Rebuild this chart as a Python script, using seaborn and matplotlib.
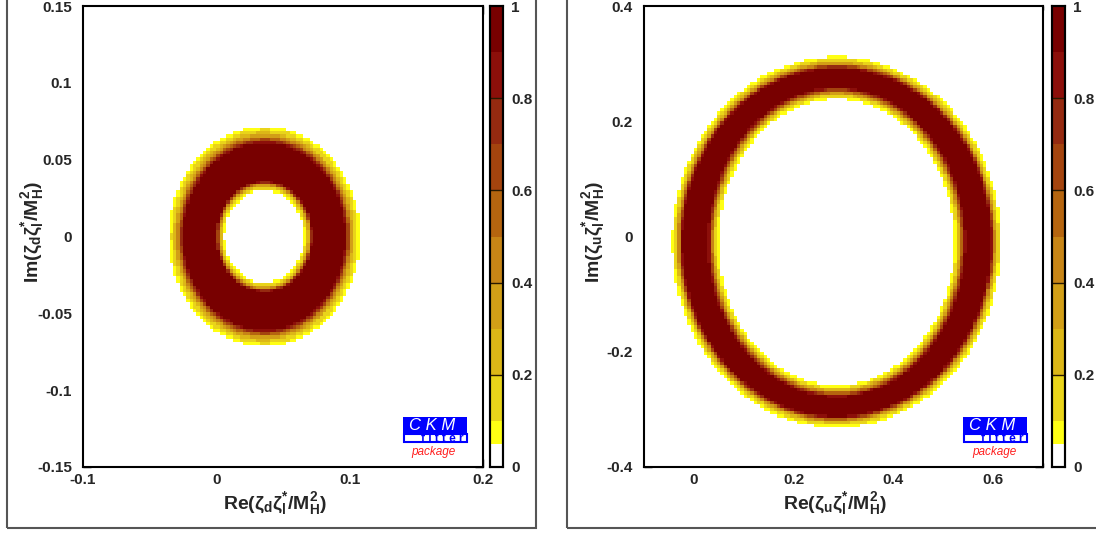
import numpy as np
import pandas as pd
import matplotlib
matplotlib.use('Agg')
import matplotlib.pyplot as plt
from matplotlib.colors import ListedColormap, BoundaryNorm
from matplotlib.patches import Rectangle
import seaborn as sns

# ─── DATA ────────────────────────────────────────────
# p-value (1-CL) bands of the palette
cl_levels = [0, 0.05, 0.1, 0.2, 0.3, 0.4, 0.5, 0.6, 0.7, 0.8, 0.9, 1.0]
cl_colors = ['#ffffff', '#ffff14', '#e9d41a', '#dcb717', '#d29f17', '#c78516',
             '#b5650f', '#a4440e', '#952a10', '#8c0f0a', '#780000']
cbar_ticks = [0, 0.2, 0.4, 0.6, 0.8, 1.0]

# band edges, one entry per threshold 0.05 ... 0.9
# left: Re/Im(zeta_d zeta_l* / MH^2)
d_xlim = (-0.1, 0.2)
d_ylim = (-0.15, 0.15)
d_xticks = [-0.1, 0, 0.1, 0.2]
d_yticks = [-0.15, -0.1, -0.05, 0, 0.05, 0.1, 0.15]
d_center = (0.036, 0.0)
d_outer_rx = [0.0717, 0.0698, 0.0677, 0.0663, 0.0652, 0.0642, 0.0633, 0.0625, 0.0618, 0.0610]
d_outer_ry = [0.0717, 0.0698, 0.0677, 0.0663, 0.0652, 0.0642, 0.0633, 0.0625, 0.0618, 0.0610]
d_inner_rx = [0.0299, 0.0310, 0.0322, 0.0330, 0.0336, 0.0342, 0.0347, 0.0351, 0.0356, 0.0360]
d_inner_ry = [0.0299, 0.0310, 0.0322, 0.0330, 0.0336, 0.0342, 0.0347, 0.0351, 0.0356, 0.0360]

# right: Re/Im(zeta_u zeta_l* / MH^2)
u_xlim = (-0.1, 0.7)
u_ylim = (-0.4, 0.4)
u_xticks = [0, 0.2, 0.4, 0.6]
u_yticks = [-0.4, -0.2, 0, 0.2, 0.4]
u_center = (0.286, -0.01)
u_outer_rx = [0.330, 0.326, 0.322, 0.320, 0.318, 0.316, 0.315, 0.313, 0.312, 0.310]
u_outer_ry = [0.322, 0.318, 0.314, 0.312, 0.310, 0.308, 0.307, 0.305, 0.304, 0.302]
u_inner_rx = [0.236, 0.240, 0.244, 0.246, 0.248, 0.250, 0.252, 0.254, 0.256, 0.258]
u_inner_ry = [0.248, 0.252, 0.255, 0.257, 0.259, 0.261, 0.263, 0.265, 0.266, 0.268]

NX, NY = 120, 140
W, H = 1096, 533

# ─── STYLE ────────────────────────────────────────────
sns.set_theme(style='white')
plt.rcParams.update({
    'font.family': ['Liberation Sans', 'DejaVu Sans'],
    'font.weight': 'bold',
    'mathtext.fontset': 'custom',
    'mathtext.rm': 'Liberation Sans:bold',
    'mathtext.it': 'Liberation Sans:bold',
    'mathtext.bf': 'Liberation Sans:bold',
})

cmap = ListedColormap(cl_colors)
norm = BoundaryNorm(cl_levels, cmap.N)
cl_mids = np.array([(a + b) / 2 for a, b in zip(cl_levels[:-1], cl_levels[1:])])


def band_map(xlim, ylim, center, orx, ory, irx, iry):
    """Cell-by-cell CL band from the band edges (rows top to bottom)."""
    xc = xlim[0] + (np.arange(NX) + 0.5) * (xlim[1] - xlim[0]) / NX
    yc = ylim[1] - (np.arange(NY) + 0.5) * (ylim[1] - ylim[0]) / NY
    X, Y = np.meshgrid(xc, yc)
    level = np.zeros(X.shape, dtype=int)
    for k in range(len(orx)):
        inside = ((X - center[0]) / orx[k]) ** 2 + ((Y - center[1]) / ory[k]) ** 2 <= 1
        outside = ((X - center[0]) / irx[k]) ** 2 + ((Y - center[1]) / iry[k]) ** 2 > 1
        level += (inside & outside).astype(int)
    return pd.DataFrame(cl_mids[level])


def fmt(v):
    v = round(v, 3) + 0.0
    return f'{v:g}'


def draw_panel(ax, cax, data, xlim, ylim, xticks, yticks, xminor, yminor, xlabel, ylabel):
    sns.heatmap(data, ax=ax, cmap=cmap, norm=norm, cbar_ax=cax,
                cbar_kws={'spacing': 'proportional', 'ticks': cbar_ticks},
                xticklabels=False, yticklabels=False)
    fx = lambda v: (v - xlim[0]) / (xlim[1] - xlim[0]) * NX
    fy = lambda v: (ylim[1] - v) / (ylim[1] - ylim[0]) * NY
    ax.set_xlim(0, NX)
    ax.set_ylim(NY, 0)

    ax.set_xticks([fx(v) for v in xticks])
    ax.set_xticklabels([fmt(v) for v in xticks])
    ax.set_yticks([fy(v) for v in yticks])
    ax.set_yticklabels([fmt(v) for v in yticks])
    xm = np.arange(xlim[0], xlim[1] + 1e-9, xminor)
    ym = np.arange(ylim[0], ylim[1] + 1e-9, yminor)
    ax.set_xticks([fx(v) for v in xm], minor=True)
    ax.set_yticks([fy(v) for v in ym], minor=True)

    ax.tick_params(which='both', direction='in', top=True, right=True,
                   bottom=True, left=True, color='black', width=1.0,
                   labelsize=11)
    ax.tick_params(which='major', length=6)
    ax.tick_params(which='minor', length=3)
    ax.tick_params(axis='x', pad=4)
    ax.tick_params(axis='y', pad=8)
    for lab in ax.get_xticklabels() + ax.get_yticklabels():
        lab.set_fontweight('bold')
    for s in ax.spines.values():
        s.set_visible(True)
        s.set_color('black')
        s.set_linewidth(1.5)

    ax.set_xlabel(xlabel, fontsize=14, fontweight='bold', va='top')
    ax.set_ylabel(ylabel, fontsize=14, fontweight='bold')
    ax.xaxis.set_label_coords(0.48, -0.05)
    ax.yaxis.set_label_coords(-0.092, 0.51)

    # colour bar
    cax.set_ylim(0, 1)
    cax.minorticks_off()
    cax.set_yticks(cbar_ticks)
    cax.set_yticklabels([fmt(v) for v in cbar_ticks], fontsize=11, fontweight='bold')
    cax.tick_params(axis='y', which='both', length=0, pad=6)
    for v in cbar_ticks[1:-1]:
        cax.axhline(v, color='#2a1a00', lw=1.0)
    for s in cax.spines.values():
        s.set_visible(True)
        s.set_color('black')
        s.set_linewidth(1.5)

    # CKMfitter logo
    x0, wbox = 0.799, 0.161
    ax.add_patch(Rectangle((x0, 0.0709), wbox, 0.037, transform=ax.transAxes,
                           fc='#0000ff', ec='none', clip_on=False, zorder=5))
    ax.add_patch(Rectangle((x0 + 0.003, 0.0535), wbox - 0.004, 0.0174, transform=ax.transAxes,
                           fc='white', ec='#0000ff', lw=1.5, clip_on=False, zorder=5))
    ax.text(0.873, 0.0893, 'C K M', transform=ax.transAxes, color='white',
            fontsize=12, fontweight='normal', style='italic',
            ha='center', va='center', zorder=6)
    ax.text(0.898, 0.0615, 'f i t t e r', transform=ax.transAxes, color='#0000ff',
            fontsize=8.5, fontweight='bold', ha='center', va='center', zorder=6)
    ax.text(0.877, 0.033, 'package', transform=ax.transAxes, color='#ff2020',
            fontsize=8.5, fontweight='normal', style='italic',
            ha='center', va='center', zorder=6)


fig = plt.figure(figsize=(W / 100, H / 100), dpi=100)
fig.patch.set_facecolor('white')

# pad frames
fig.add_artist(Rectangle((7 / W, 5 / H), (536 - 7) / W, 1.0, transform=fig.transFigure,
                         fill=False, ec='#555555', lw=1.5))
fig.add_artist(Rectangle((567 / W, 5 / H), 1.0, 1.0, transform=fig.transFigure,
                         fill=False, ec='#555555', lw=1.5))

bottom, height = (H - 467) / H, 461 / H
ax1 = fig.add_axes([83 / W, bottom, 400 / W, height])
cax1 = fig.add_axes([490 / W, bottom, 13 / W, height])
ax2 = fig.add_axes([644 / W, bottom, 399 / W, height])
cax2 = fig.add_axes([1052 / W, bottom, 13 / W, height])

d_map = band_map(d_xlim, d_ylim, d_center, d_outer_rx, d_outer_ry, d_inner_rx, d_inner_ry)
u_map = band_map(u_xlim, u_ylim, u_center, u_outer_rx, u_outer_ry, u_inner_rx, u_inner_ry)

draw_panel(ax1, cax1, d_map, d_xlim, d_ylim, d_xticks, d_yticks, 0.02, 0.01,
           r'Re(ζ$_{d}$ζ$_{l}^{*}$/M$_{H}^{2}$)', r'Im(ζ$_{d}$ζ$_{l}^{*}$/M$_{H}^{2}$)')
draw_panel(ax2, cax2, u_map, u_xlim, u_ylim, u_xticks, u_yticks, 0.05, 0.05,
           r'Re(ζ$_{u}$ζ$_{l}^{*}$/M$_{H}^{2}$)', r'Im(ζ$_{u}$ζ$_{l}^{*}$/M$_{H}^{2}$)')

plt.savefig('out.png', dpi=100)
